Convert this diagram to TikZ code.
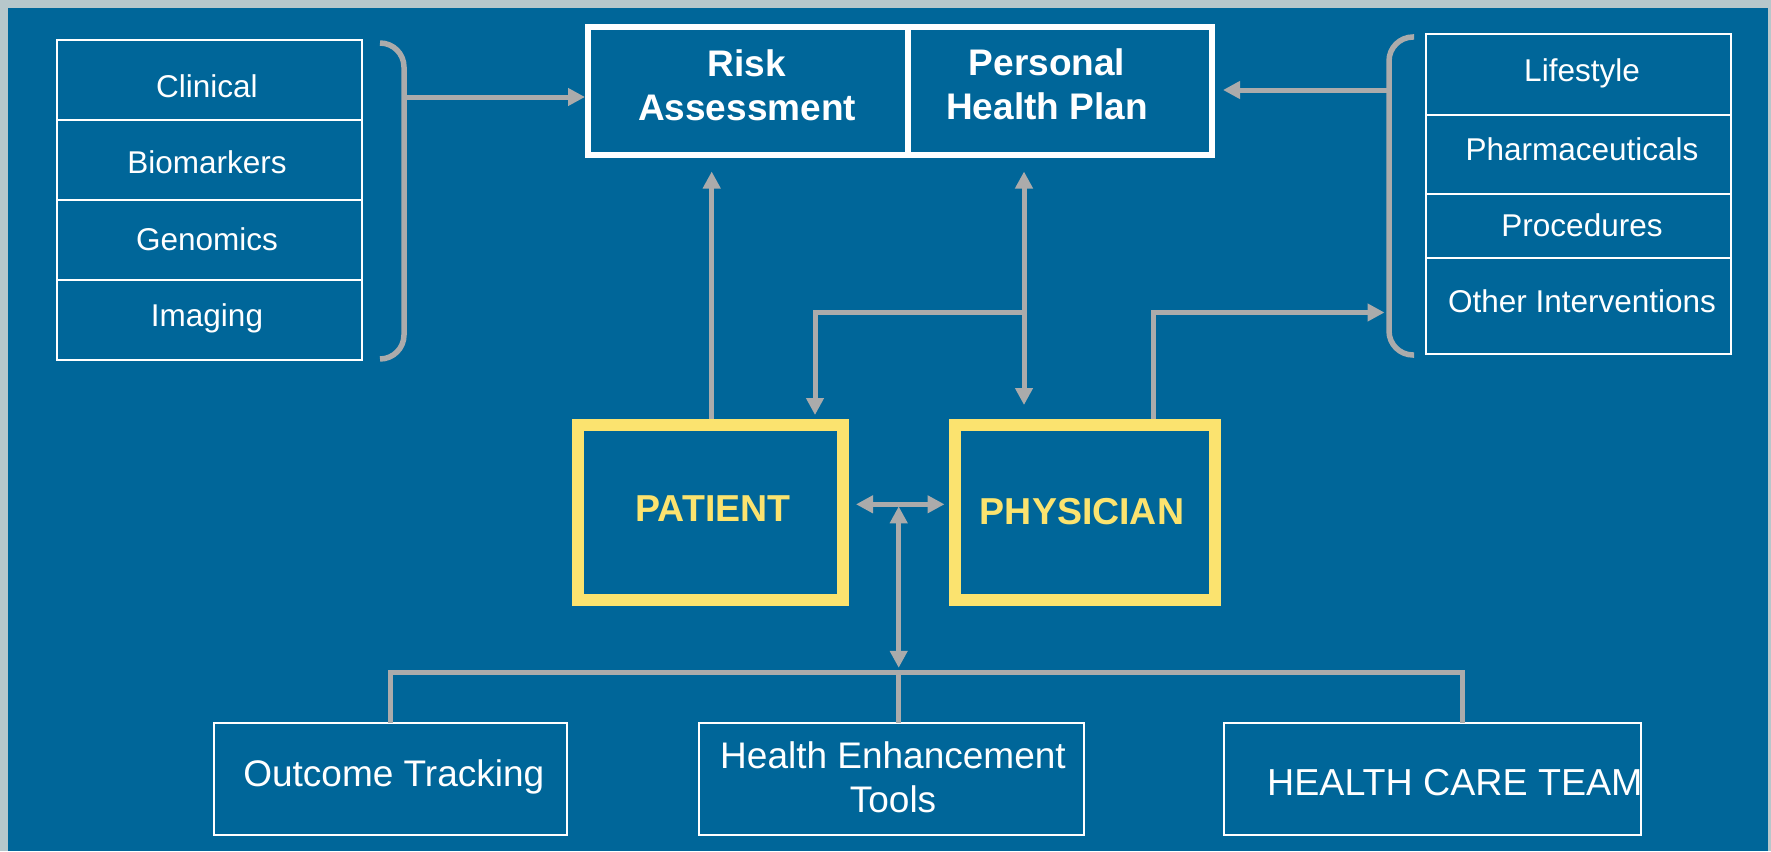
\documentclass[tikz,border=0pt]{standalone}
\usepackage{fontspec}
\setmainfont{Liberation Sans}
\usetikzlibrary{arrows.meta,calc}
\definecolor{bgblue}{HTML}{006699}
\definecolor{outerbg}{HTML}{B7C7CB}
\definecolor{conn}{HTML}{ABABAB}
\definecolor{gold}{HTML}{FBE36F}
\begin{document}
\begin{tikzpicture}[x=1pt,y=-1pt,
  cell/.style={draw=white,line width=2pt,inner sep=0pt,outer sep=0pt,minimum width=305pt},
  topbox/.style={draw=white,line width=6pt,inner sep=0pt,outer sep=0pt,minimum height=127.5pt},
  rolebox/.style={draw=gold,line width=12pt,inner sep=0pt,outer sep=0pt,minimum height=175.5pt},
  botbox/.style={draw=white,line width=2pt,inner sep=0pt,outer sep=0pt,minimum height=112.3pt},
  listtxt/.style={text=white,inner sep=0pt,anchor=base,font=\fontsize{31.5}{36}\selectfont},
  headtxt/.style={text=white,inner sep=0pt,anchor=base,font=\bfseries\fontsize{37}{44.5}\selectfont},
  roletxt/.style={text=gold,inner sep=0pt,anchor=base,font=\bfseries\fontsize{37.5}{44.5}\selectfont},
  bottxt/.style={text=white,inner sep=0pt,anchor=base,font=\fontsize{37}{43.7}\selectfont},
  brk/.style={draw=conn,line width=5.5pt,rounded corners=24pt},
  conline/.style={draw=conn,line width=5pt},
  arr/.style={draw=conn,line width=5pt,-{Triangle[length=17pt,width=17pt]}},
  arrtwo/.style={draw=conn,line width=5pt,{Triangle[length=17pt,width=17pt]}-{Triangle[length=17pt,width=17pt]}}
]
\useasboundingbox (0,0) rectangle (1771,851);
\fill[outerbg] (0,0) rectangle (1771,851);
\fill[bgblue] (8,8) rectangle (1768,851);

% left table
\node[cell,minimum height=80.3pt] (c1) at (209.1,80.15) {};
\node[cell,minimum height=79.7pt] (c2) at (209.1,160.15) {};
\node[cell,minimum height=80pt] (c3) at (209.1,240) {};
\node[cell,minimum height=80pt] (c4) at (209.1,320) {};
\node[listtxt] (t1) at (207,97.3) {Clinical};
\node[listtxt] (t2) at (207,173.3) {Biomarkers};
\node[listtxt] (t3) at (207,250.7) {Genomics};
\node[listtxt] (t4) at (207,326.7) {Imaging};

% right table
\node[cell,minimum height=80.7pt] (r1) at (1578.7,74.65) {};
\node[cell,minimum height=79.3pt] (r2) at (1578.7,154.65) {};
\node[cell,minimum height=64pt] (r3) at (1578.7,226.3) {};
\node[cell,minimum height=96pt] (r4) at (1578.7,306.3) {};
\node[listtxt] (s1) at (1582,81.7) {Lifestyle};
\node[listtxt] (s2) at (1582,160) {Pharmaceuticals};
\node[listtxt] (s3) at (1582,236) {Procedures};
\node[listtxt] (s4) at (1582,312.7) {Other Interventions};

% top boxes
\node[topbox,minimum width=319.5pt] (risk) at (747.75,90.75) {};
\node[topbox,minimum width=304.5pt] (plan) at (1059.75,90.75) {};
\node[headtxt] (risktxt) at (747,76) {\begin{tabular}[t]{@{}c@{}}Risk\\Assessment\end{tabular}};
\node[headtxt] (plantxt) at (1047,75) {\begin{tabular}[t]{@{}c@{}}Personal\\Health Plan\end{tabular}};

% role boxes
\node[rolebox,minimum width=265pt] (patient) at (710,512.25) {};
\node[rolebox,minimum width=260pt] (physician) at (1085,512.25) {};
\node[roletxt] (pattxt) at (713,521.7) {PATIENT};
\node[roletxt] (phytxt) at (1082,524) {PHYSICIAN};

% bottom boxes
\node[botbox,minimum width=353pt] (outcome) at (390,778.9) {};
\node[botbox,minimum width=384.8pt] (hetools) at (891.1,778.7) {};
\node[botbox,minimum width=417.3pt] (hct) at (1432.4,778.9) {};
\node[bottxt] (outtxt) at (393.8,786.7) {Outcome Tracking};
\node[bottxt] (hetxt) at (893,768.3) {\begin{tabular}[t]{@{}c@{}}Health Enhancement\\Tools\end{tabular}};
\node[bottxt,anchor=base west,font=\fontsize{37.6}{42}\selectfont] (hcttxt) at (1267,795) {HEALTH CARE TEAM};

% brackets
\draw[brk] (380,43) -- (404,43) -- (404,359) -- (380,359);
\draw[brk] (1414,37) -- (1389,37) -- (1389,355) -- (1414,355);
\coordinate (lbk) at (404,97);
\coordinate (rbka) at (1389,90);
\coordinate (rbkb) at (1389,312.5);
\coordinate (pp) at (1024,312);
\coordinate (mid) at (898.7,504.3);
\coordinate (bar) at (898.7,672.3);

% connectors
\draw[arr,shorten >=3pt] (lbk) -- (lbk -| risk.west);
\draw[arr,shorten >=11pt] (rbka) -- (rbka -| plan.east);
\draw[arr,shorten <=6pt,shorten >=17pt] ($(patient.north)+(1.7,0)$) -- ($(patient.north |- risk.south)+(1.7,0)$);
\draw[arrtwo,shorten <=17pt,shorten >=19.5pt] (pp |- plan.south) -- (pp |- physician.north);
\draw[arr,shorten >=9.5pt] (pp) -| ($(patient.north)+(105,0)$);
\draw[arr,shorten <=6pt,shorten >=4.5pt] ($(physician.north)+(68,0)$) |- (rbkb);
\draw[arrtwo,shorten <=13.5pt,shorten >=10.5pt] (patient.east |- mid) -- (physician.west |- mid);
\draw[arrtwo,shorten <=2pt,shorten >=4.5pt] (mid) -- (bar);
\draw[conline] (outcome.north) |- (bar) -| ($(hct.north)+(30,0)$);
\draw[conline] (bar) -- (bar |- hetools.north);
\end{tikzpicture}
\end{document}
